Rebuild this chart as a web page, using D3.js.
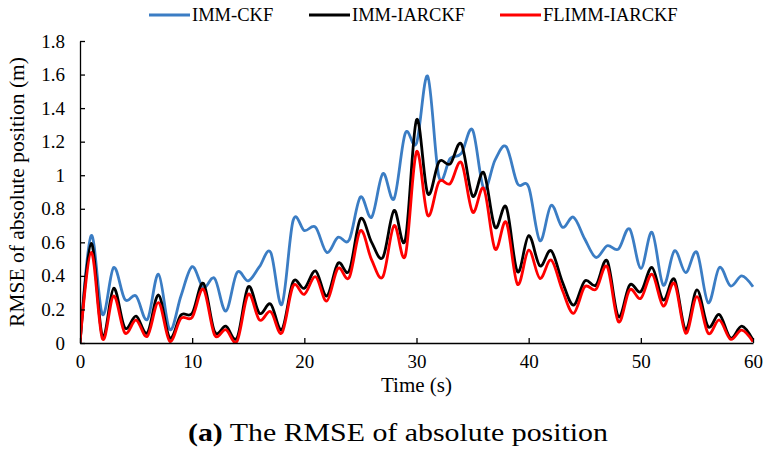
<!DOCTYPE html>
<html>
<head>
<meta charset="utf-8">
<script src="https://cdn.jsdelivr.net/npm/d3@7"></script>
<style>
  body { margin: 0; background: #fff; }
  svg text { font-family: "Liberation Serif", "Times New Roman", Times, "Nimbus Roman", FreeSerif, serif; fill: #000; }
</style>
</head>
<body>
<div id="chart"></div>
<script>
// RMSE of absolute position - three filters, sampled every second

const seconds = d3.range(0, 61);
const xTicks = [0, 10, 20, 30, 40, 50, 60];
const yTicks = [0, 0.2, 0.4, 0.6, 0.8, 1, 1.2, 1.4, 1.6, 1.8];

const immCkf = [
  0, 0.64, 0.17, 0.45, 0.26, 0.28, 0.14, 0.41, 0.08, 0.28,
  0.455, 0.33, 0.385, 0.19, 0.42, 0.37, 0.455, 0.54, 0.23, 0.73,
  0.67, 0.69, 0.54, 0.63, 0.615, 0.87, 0.75, 1.01, 0.86, 1.25,
  1.19, 1.59, 0.99, 1.10, 1.13, 1.27, 0.92, 1.09, 1.17, 0.95,
  0.93, 0.61, 0.82, 0.69, 0.75, 0.62, 0.51, 0.58, 0.56, 0.68,
  0.445, 0.66, 0.345, 0.55, 0.42, 0.54, 0.24, 0.45, 0.34, 0.40,
  0.335
];

const immIarckf = [
  0, 0.594, 0.04, 0.326, 0.09, 0.16, 0.06, 0.286, 0.03, 0.167,
  0.177, 0.356, 0.067, 0.10, 0.03, 0.335, 0.177, 0.232, 0.08, 0.365,
  0.326, 0.43, 0.28, 0.475, 0.43, 0.74, 0.60, 0.51, 0.79, 0.614,
  1.33, 0.89, 1.08, 1.067, 1.186, 0.876, 1.015, 0.69, 0.81, 0.425,
  0.64, 0.46, 0.55, 0.365, 0.226, 0.37, 0.345, 0.49, 0.157, 0.345,
  0.306, 0.45, 0.256, 0.38, 0.08, 0.316, 0.097, 0.17, 0.03, 0.10,
  0.018
];

const flimmIarckf = [
  0, 0.54, 0.024, 0.28, 0.06, 0.137, 0.04, 0.24, 0.01, 0.147,
  0.153, 0.32, 0.048, 0.08, 0.01, 0.29, 0.137, 0.187, 0.06, 0.34,
  0.29, 0.395, 0.25, 0.445, 0.39, 0.67, 0.495, 0.395, 0.70, 0.52,
  1.14, 0.76, 0.96, 0.95, 1.075, 0.78, 0.92, 0.56, 0.72, 0.35,
  0.554, 0.385, 0.495, 0.316, 0.177, 0.335, 0.32, 0.455, 0.127, 0.316,
  0.266, 0.41, 0.22, 0.356, 0.058, 0.276, 0.058, 0.137, 0.022, 0.077,
  0.008
];

const seriesNames = ['IMM-CKF', 'IMM-IARCKF', 'FLIMM-IARCKF'];
const seriesColors = ['#3b7dc4', '#000000', '#ff0000'];

const serif = '"Liberation Serif", "Times New Roman", Times, "Nimbus Roman", FreeSerif, serif';

const width = 764;
const height = 451;
const margin = { top: 41, right: 11, bottom: 108, left: 80 };

const svg = d3.select('#chart')
  .append('svg')
  .attr('width', width)
  .attr('height', height);

const x = d3.scaleLinear()
  .domain([0, 60])
  .range([margin.left, width - margin.right]);

const y = d3.scaleLinear()
  .domain([0, 1.8])
  .range([height - margin.bottom, margin.top]);

// clip so the smoothed curves don't dip under the axis
svg.append('clipPath')
  .attr('id', 'plot-clip')
  .append('rect')
  .attr('x', x(0))
  .attr('y', y(1.8) - 5)
  .attr('width', x(60) - x(0) + 3)
  .attr('height', y(0) - y(1.8) + 5);

// Lines
const line = d3.line()
  .x((d, i) => x(seconds[i]))
  .y(d => y(d))
  .curve(d3.curveCardinal.tension(0));

const allSeries = [immCkf, immIarckf, flimmIarckf];

svg.append('g')
  .attr('clip-path', 'url(#plot-clip)')
  .selectAll('path')
  .data(allSeries)
  .enter()
  .append('path')
  .attr('d', d => line(d))
  .attr('fill', 'none')
  .attr('stroke', (d, i) => seriesColors[i])
  .attr('stroke-width', 2.8)
  .attr('stroke-linejoin', 'round');

// Axes (ticks point inward)
const xAxis = svg.append('g')
  .attr('transform', `translate(0, ${y(0)})`)
  .call(d3.axisBottom(x).tickValues(xTicks).tickSizeInner(-5).tickSizeOuter(0).tickPadding(12));

const yAxis = svg.append('g')
  .attr('transform', `translate(${x(0)}, 0)`)
  .call(d3.axisLeft(y).tickValues(yTicks).tickSizeInner(-5).tickSizeOuter(0).tickPadding(15)
    .tickFormat(d => d3.format('')(+d.toFixed(1))));

[xAxis, yAxis].forEach(ax => {
  ax.attr('font-family', serif);
  ax.select('.domain').attr('stroke', '#000').attr('stroke-width', 1.3);
  ax.selectAll('.tick line').attr('stroke', '#000').attr('stroke-width', 1.3);
  ax.selectAll('.tick text')
    .style('font-family', serif)
    .style('font-size', '19px')
    .attr('fill', '#000');
});

// Axis titles
svg.append('text')
  .attr('x', (x(0) + x(60)) / 2)
  .attr('y', 392)
  .attr('text-anchor', 'middle')
  .style('font-size', '21px')
  .text('Time (s)');

svg.append('text')
  .attr('transform', `translate(24, ${(y(0) + y(1.8)) / 2}) rotate(-90)`)
  .attr('text-anchor', 'middle')
  .style('font-size', '21.5px')
  .text('RMSE of absolute position (m)');

// Legend
const legendX = [149, 309, 500];
const legend = svg.append('g');
seriesNames.forEach((name, i) => {
  legend.append('line')
    .attr('x1', legendX[i])
    .attr('x2', legendX[i] + 41)
    .attr('y1', 15)
    .attr('y2', 15)
    .attr('stroke', seriesColors[i])
    .attr('stroke-width', 2.8);
  legend.append('text')
    .attr('x', legendX[i] + 43)
    .attr('y', 21)
    .style('font-size', '18.5px')
    .text(name);
});

// Caption
const caption = svg.append('text')
  .attr('x', 398)
  .attr('y', 441)
  .attr('text-anchor', 'middle')
  .attr('textLength', 420)
  .attr('lengthAdjust', 'spacingAndGlyphs')
  .style('font-size', '26px');
caption.append('tspan').style('font-weight', 'bold').text('(a)');
caption.append('tspan').text(' The RMSE of absolute position');
</script>
</body>
</html>
